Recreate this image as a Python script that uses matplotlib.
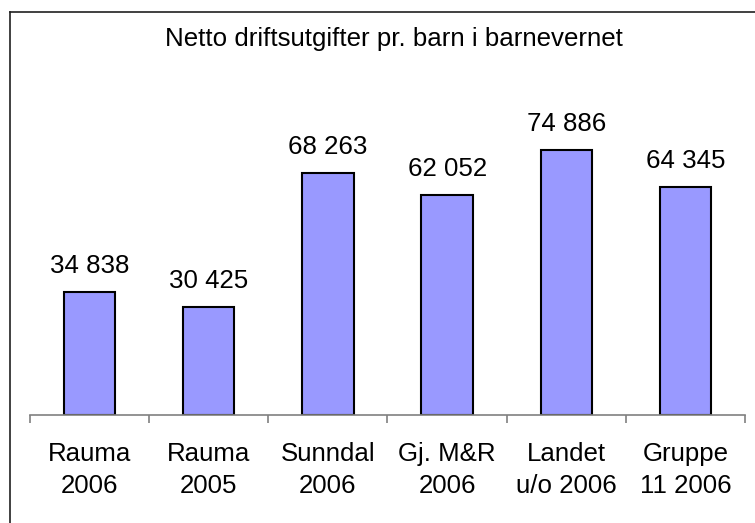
import matplotlib.pyplot as plt
from matplotlib.lines import Line2D

plt.rcParams['font.family'] = ['Liberation Sans', 'DejaVu Sans']

categories = ['Rauma\n2006', 'Rauma\n2005', 'Sunndal\n2006', 'Gj. M&R\n2006',
              'Landet\nu/o 2006', 'Gruppe\n11 2006']
values = [34838, 30425, 68263, 62052, 74886, 64345]
title = 'Netto driftsutgifter pr. barn i barnevernet'

W, H = 755, 523
FS = 18.6
fig = plt.figure(figsize=(W / 100, H / 100), dpi=100)
ax = fig.add_axes([30 / W, 1 - 415 / H, 715 / W, 354 / H])

x = range(len(values))
ax.bar(x, values, width=0.43, color='#9999FF', edgecolor='black', linewidth=1.5, zorder=2)

# labels above bars, with a space as thousands separator
for i, v in enumerate(values):
    ax.annotate(f'{v:,}'.replace(',', ' '), (i, v), xytext=(0, 10),
                textcoords='offset points', ha='center', va='bottom', fontsize=FS)

ax.set_xlim(-0.5, len(values) - 0.5)
ax.set_ylim(0, 100000)
for s in ['left', 'right', 'top']:
    ax.spines[s].set_visible(False)
ax.spines['bottom'].set_color('#808080')
ax.spines['bottom'].set_linewidth(1.2)
ax.set_yticks([])

# ticks sit between categories
ax.set_xticks([i - 0.5 for i in range(len(values) + 1)])
ax.set_xticklabels([])
ax.tick_params(axis='x', length=6, width=1.2, color='#808080', direction='out')
for i, c in enumerate(categories):
    ax.text(i, -0.075, c, transform=ax.get_xaxis_transform(), ha='center', va='top',
            fontsize=FS, linespacing=1.42)

fig.text(394 / W, 1 - 39 / H, title, ha='center', va='center', fontsize=FS)

# chart area border (only top and left fall inside the picture)
fig.add_artist(Line2D([10 / W, 1.0], [1 - 12 / H, 1 - 12 / H], color='#202020', lw=1.2))
fig.add_artist(Line2D([10 / W, 10 / W], [0, 1 - 12 / H], color='#202020', lw=1.2))

fig.savefig('out.png', dpi=100)
